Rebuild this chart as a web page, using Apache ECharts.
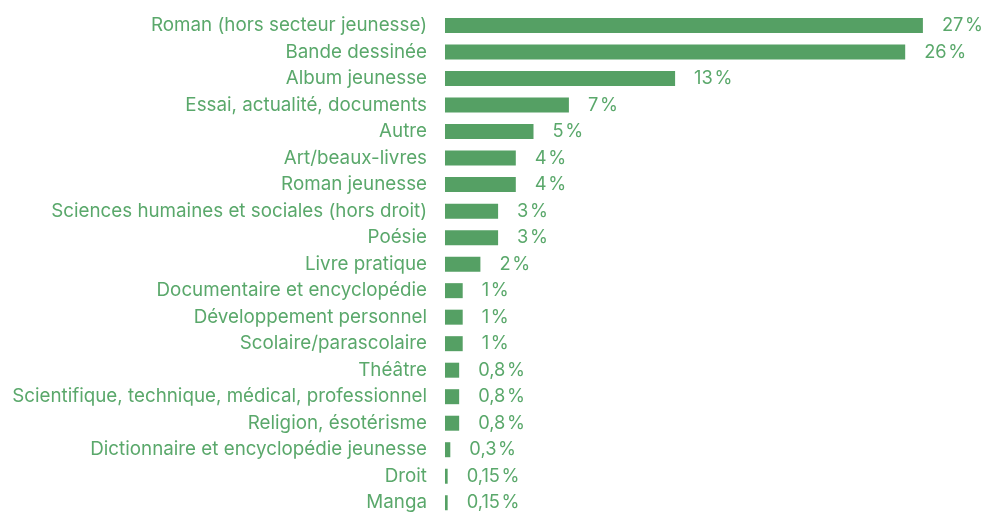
<!DOCTYPE html>
<html>
<head>
<meta charset="utf-8">
<script src="https://cdn.jsdelivr.net/npm/echarts@6/dist/echarts.min.js"></script>
<style>
  html, body { margin: 0; padding: 0; background: #fff; }
  #main { width: 983px; height: 516px; }
</style>
</head>
<body>
<div id="main"></div>
<script>
// genres
var categories = [
    "Roman (hors secteur jeunesse)", "Bande dessinée", "Album jeunesse",
    "Essai, actualité, documents", "Autre", "Art/beaux-livres", "Roman jeunesse",
    "Sciences humaines et sociales (hors droit)", "Poésie", "Livre pratique",
    "Documentaire et encyclopédie", "Développement personnel", "Scolaire/parascolaire",
    "Théâtre", "Scientifique, technique, médical, professionnel", "Religion, ésotérisme",
    "Dictionnaire et encyclopédie jeunesse", "Droit", "Manga"
];
// parts en %
var values = [27, 26, 13, 7, 5, 4, 4, 3, 3, 2, 1, 1, 1, 0.8, 0.8, 0.8, 0.3, 0.15, 0.15];

var green = '#55a064';
var textGreen = '#5aa86b';

var myChart = echarts.init(document.getElementById('main'));

var option = {
    animation: false,
    grid: { left: 445, right: 7, top: 12.3, height: 505.4, containLabel: false },
    xAxis: {
        type: 'value', min: 0, max: 30, show: false
    },
    yAxis: {
        type: 'category',
        data: categories,
        inverse: true,
        axisLine: { show: false },
        axisTick: { show: false },
        axisLabel: {
            margin: 18,
            color: textGreen,
            fontFamily: 'Inter',
            fontSize: 18.8,
            padding: [3, 0, 0, 0]
        }
    },
    series: [{
        type: 'bar',
        data: values,
        barWidth: 15,
        itemStyle: { color: green },
        label: {
            show: true,
            position: 'right',
            distance: 19,
            color: textGreen,
            fontFamily: 'Inter',
            fontSize: 18.3,
            padding: [2, 0, 0, 0],
            formatter: function (p) {
                return String(p.value).replace('.', ',') + '\u200a%';
            }
        }
    }]
};

myChart.setOption(option);
</script>
</body>
</html>
